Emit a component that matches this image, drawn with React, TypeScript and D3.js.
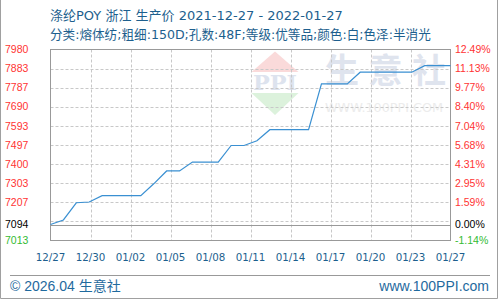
import React from "react";
import * as d3 from "d3";

// ---- data ----
const dates = [
  "2021-12-27","2021-12-28","2021-12-29","2021-12-30","2021-12-31","2022-01-01","2022-01-02","2022-01-03",
  "2022-01-04","2022-01-05","2022-01-06","2022-01-07","2022-01-08","2022-01-09","2022-01-10","2022-01-11",
  "2022-01-12","2022-01-13","2022-01-14","2022-01-15","2022-01-16","2022-01-17","2022-01-18","2022-01-19",
  "2022-01-20","2022-01-21","2022-01-22","2022-01-23","2022-01-24","2022-01-25","2022-01-26","2022-01-27",
];
const prices = [
  7094, 7117, 7204, 7208, 7240, 7240, 7240, 7240,
  7300, 7365, 7365, 7410, 7410, 7410, 7494, 7494,
  7518, 7574, 7574, 7574, 7574, 7806, 7806, 7806,
  7865, 7865, 7865, 7865, 7865, 7898, 7898, 7898,
];
const xTickLabels = ["12/27","12/30","01/02","01/05","01/08","01/11","01/14","01/17","01/20","01/23","01/27"];
const gridValues = [7980, 7883.3, 7786.7, 7690, 7593.3, 7496.7, 7400, 7303.3, 7206.7, 7110];
const leftLabelValues = [7980, 7883.3, 7786.7, 7690, 7593.3, 7496.7, 7400, 7303.3, 7206.7, 7094, 7013];
const leftLabels = ["7980","7883","7787","7690","7593","7497","7400","7303","7207","7094","7013"];
const rightLabels = ["12.49%","11.13%","9.77%","8.40%","7.04%","5.68%","4.31%","2.95%","1.59%","0.00%","-1.14%"];
const baseValue = 7094;
const yMin = 7013;
const yMax = 7980;
const title = "涤纶POY 浙江 生产价 2021-12-27 - 2022-01-27";
const subtitle = "分类:熔体纺;粗细:150D;孔数:48F;等级:优等品;颜色:白;色泽:半消光";
const watermarkChars = ["生", "意", "社"];

const W = 500, H = 300;
const L = 50.5, R = 450.5, T = 49.5, B = 240.5;

const FONT = "'DejaVu Sans', 'Noto Sans CJK SC', sans-serif";
const BLUE_TEXT = "#1d5f8e";

export default function App() {
  const parse = d3.timeParse("%Y-%m-%d");
  const ds = dates.map((d) => parse(d) as Date);
  const x = d3.scaleTime().domain([ds[0], ds[ds.length - 1]]).range([L, R]);
  const y = d3.scaleLinear().domain([yMin, yMax]).range([B, T]);
  const xTicks = d3.scalePoint<string>().domain(xTickLabels).range([L, R]);
  const wm = d3.scalePoint<string>().domain(watermarkChars).range([325, 412]);
  const line = d3
    .line<number>()
    .x((_, i) => x(ds[i]))
    .y((v) => y(v));
  const colorFor = (v: number) => (v > baseValue ? "#ff3333" : v < baseValue ? "#33bb33" : "#000");

  return (
    <svg width={W} height={H} style={{ position: "absolute", left: 0, top: 0, background: "#fff" }}>
      {/* watermark */}
      <g>
        <polygon points="275,51.5 251.5,72 298.5,72" fill="#fadada" />
        <text x={275} y={90} textAnchor="middle" fontFamily="'DejaVu Serif', serif" fontWeight="bold" fontSize={20} fill="#dde3ee" textLength={44} lengthAdjust="spacingAndGlyphs">PPI</text>
        <polygon points="251.5,93 298.5,93 275,115" fill="#dcf2dc" />
        {watermarkChars.map((c) => (
          <text key={c} x={wm(c) as number} y={83} fontFamily="'Noto Sans CJK SC', sans-serif" fontWeight="bold" fontSize={34} fill="#dfe4ee">{c}</text>
        ))}
        <text x={325} y={111.5} fontFamily={FONT} fontSize={12.6} fill="#ececec" textLength={118} lengthAdjust="spacingAndGlyphs">WWW.100PPI.COM</text>
      </g>

      {/* title */}
      <text x={50} y={19.5} fontFamily={FONT} fontSize={13} fill={BLUE_TEXT}>{title}</text>
      <text x={50} y={38.5} fontFamily={FONT} fontSize={12.6} fill={BLUE_TEXT}>{subtitle}</text>

      {/* horizontal grid */}
      {gridValues.slice(1).map((v, i) => (
        <line key={"h" + i} x1={L} x2={R} y1={Math.round(y(v)) + 0.5} y2={Math.round(y(v)) + 0.5} stroke="#c8c8c8" strokeDasharray="3,2" />
      ))}
      {/* vertical grid */}
      {xTickLabels.slice(1, -1).map((t) => (
        <line key={"v" + t} x1={Math.round(xTicks(t) as number) + 0.5} x2={Math.round(xTicks(t) as number) + 0.5} y1={T} y2={B} stroke="#c8c8c8" strokeDasharray="3,2" />
      ))}
      {/* base line */}
      <line x1={L} x2={R} y1={Math.round(y(baseValue)) + 0.5} y2={Math.round(y(baseValue)) + 0.5} stroke="#999" />
      {/* frame */}
      <rect x={L} y={T} width={R - L} height={B - T} fill="none" stroke="#999" />

      {/* data line */}
      <path d={line(prices) || ""} fill="none" stroke="#3a90d2" strokeWidth={1.2} />

      {/* left axis labels */}
      {leftLabelValues.map((v, i) => (
        <text key={"l" + i} x={5} y={y(v)} dy="0.35em" fontFamily="'Liberation Sans', Arial, sans-serif" fontSize={10.5} fill={colorFor(v)}>{leftLabels[i]}</text>
      ))}
      {/* right axis labels */}
      {leftLabelValues.map((v, i) => (
        <text key={"r" + i} x={455} y={y(v)} dy="0.35em" fontFamily="'Liberation Sans', Arial, sans-serif" fontSize={10.5} fill={colorFor(v)}>{rightLabels[i]}</text>
      ))}
      {/* x axis labels */}
      {xTickLabels.map((t) => (
        <text key={"x" + t} x={xTicks(t) as number} y={261} textAnchor="middle" fontFamily={FONT} fontSize={10.3} fill={BLUE_TEXT}>{t}</text>
      ))}

      {/* footer */}
      <line x1={10} x2={490} y1={275.5} y2={275.5} stroke="#999" />
      <text x={10} y={291} fontFamily="'Liberation Sans', Arial, 'Noto Sans CJK SC', sans-serif" fontSize={14} fill="#1f6a9e">© 2026.04 生意社</text>
      <text x={489} y={291} textAnchor="end" fontFamily="'Liberation Sans', Arial, sans-serif" fontSize={14} fill="#1f6a9e">www.100PPI.com</text>

      {/* outer border */}
      <path d="M0.5,0 V298.5 H497.5 V0" fill="none" stroke="#a0a0a0" />
    </svg>
  );
}
